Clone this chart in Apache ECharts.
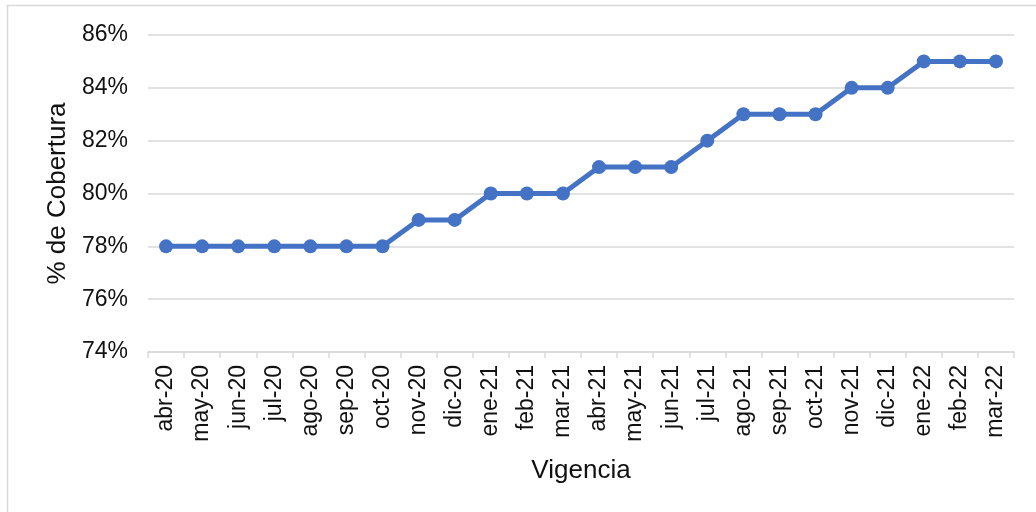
<!DOCTYPE html>
<html>
<head>
<meta charset="utf-8">
<script src="https://cdn.jsdelivr.net/npm/echarts@6/dist/echarts.min.js"></script>
<style>
  html, body { margin: 0; padding: 0; background: #fff; }
  #chart { width: 1036px; height: 512px; }
</style>
</head>
<body>
<div id="chart"></div>
<script>
// meses
const months = ['abr-20', 'may-20', 'jun-20', 'jul-20', 'ago-20', 'sep-20', 'oct-20', 'nov-20', 'dic-20',
  'ene-21', 'feb-21', 'mar-21', 'abr-21', 'may-21', 'jun-21', 'jul-21', 'ago-21', 'sep-21', 'oct-21',
  'nov-21', 'dic-21', 'ene-22', 'feb-22', 'mar-22']
// % de cobertura
const coverage = [78, 78, 78, 78, 78, 78, 78, 79, 79, 80, 80, 80, 81, 81, 81, 82, 83, 83, 83, 84, 84, 85, 85, 85]
const yTicks = { min: 74, max: 86, step: 2 }

const chart = echarts.init(document.getElementById('chart'))
const font = 'Liberation Sans, Arial, sans-serif'

chart.setOption({
  animation: false,
  graphic: [{
    type: 'rect',
    shape: { x: 7.5, y: 5.5, width: 1100, height: 600 },
    style: { fill: 'none', stroke: '#d9d9d9', lineWidth: 1.5 }
  }],
  grid: { left: 148, right: 22, top: 35, bottom: 160 },
  xAxis: {
    type: 'category',
    data: months,
    boundaryGap: true,
    name: 'Vigencia',
    nameLocation: 'middle',
    nameGap: 106,
    nameTextStyle: { fontFamily: font, fontSize: 26, color: '#111' },
    axisLine: { lineStyle: { color: '#d9d9d9', width: 1.5 } },
    axisTick: { show: true, length: 6, lineStyle: { color: '#d9d9d9', width: 1.5 } },
    axisLabel: { rotate: 90, fontFamily: font, fontSize: 23, color: '#111', margin: 13 }
  },
  yAxis: {
    type: 'value',
    min: yTicks.min,
    max: yTicks.max,
    interval: yTicks.step,
    name: '% de Cobertura',
    nameLocation: 'middle',
    nameGap: 76,
    nameTextStyle: { fontFamily: font, fontSize: 26, color: '#111' },
    axisLine: { show: false },
    axisTick: { show: false },
    axisLabel: { formatter: '{value}%', fontFamily: font, fontSize: 23, color: '#111', margin: 20 },
    splitLine: { lineStyle: { color: '#d9d9d9', width: 1.5 } }
  },
  series: [{
    type: 'line',
    data: coverage,
    symbol: 'circle',
    symbolSize: 14,
    lineStyle: { color: '#4472C4', width: 5 },
    itemStyle: { color: '#4472C4' }
  }]
})
</script>
</body>
</html>
